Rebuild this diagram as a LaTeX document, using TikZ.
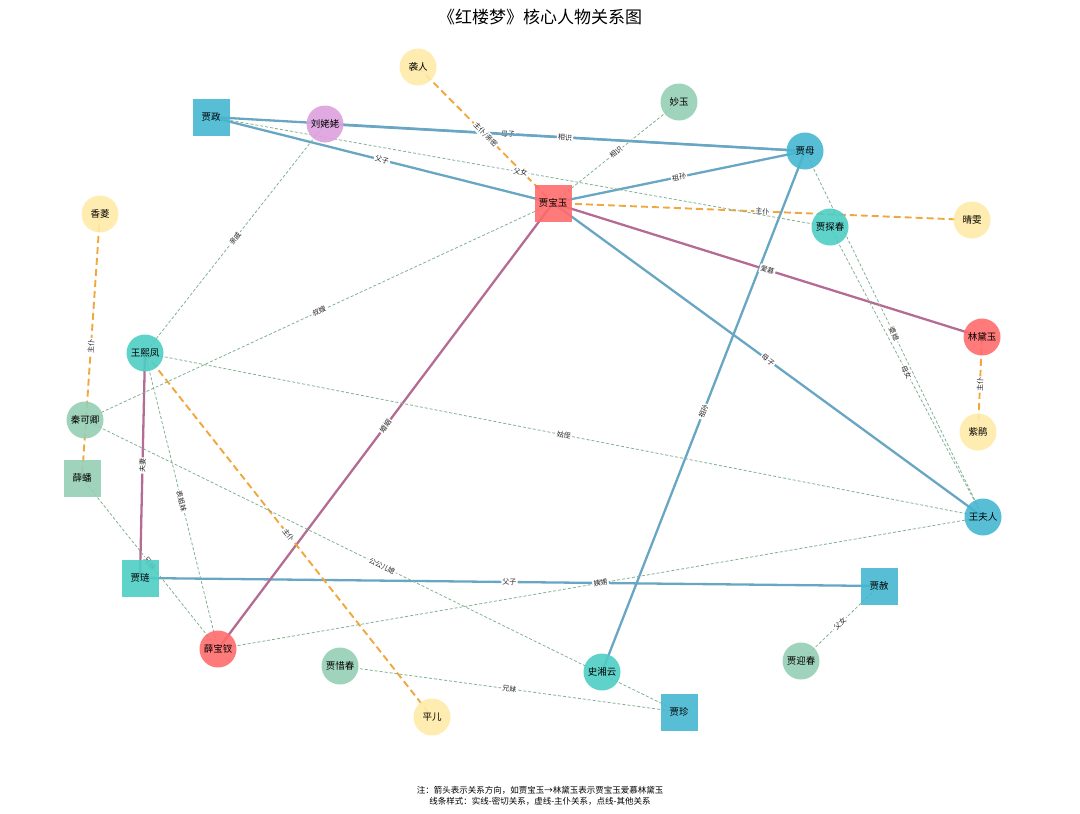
\documentclass[tikz,border=0pt]{standalone}
\usepackage{fontspec}
\setmainfont{Noto Sans CJK SC}
\usepackage{xcolor}

\definecolor{nred}{HTML}{FF6B6B}
\definecolor{nblue}{HTML}{45B7D1}
\definecolor{nteal}{HTML}{4ECDC4}
\definecolor{ngreen}{HTML}{96CEB4}
\definecolor{nyellow}{HTML}{FFEAA7}
\definecolor{npurple}{HTML}{DDA0DD}
\definecolor{ekin}{RGB}{104,166,196}
\definecolor{elove}{RGB}{181,108,148}
\definecolor{eserve}{RGB}{240,168,62}
\definecolor{eother}{RGB}{128,178,146}

\pgfdeclarelayer{bg}
\pgfsetlayers{bg,main}

\tikzset{
  person/.style={inner sep=0pt, minimum size=37pt, fill opacity=0.9, text opacity=1,
    font=\fontsize{9.5}{9.5}\selectfont},
  male/.style={person, rectangle},
  female/.style={person, circle},
  kin/.style={draw=ekin, line width=2.3pt},
  love/.style={draw=elove, line width=2.3pt},
  serve/.style={draw=eserve, line width=1.9pt, dash pattern=on 7pt off 4pt},
  other/.style={draw=eother, line width=0.8pt, dash pattern=on 3pt off 2pt},
  lab/.style={fill=white, inner sep=1.2pt, sloped, text=black!85,
    font=\fontsize{7}{7}\selectfont}
}

\begin{document}
\begin{tikzpicture}[x=1pt,y=-1pt]
\useasboundingbox (0,0) rectangle (1080,814);

% people
\node[female,fill=nyellow] (xiren) at (418,67) {袭人};
\node[female,fill=ngreen] (miaoyu) at (679,102) {妙玉};
\node[male,fill=nblue] (zheng) at (211,117) {贾政};
\node[female,fill=npurple] (liu) at (325,124) {刘姥姥};
\node[female,fill=nblue] (jiamu) at (805,151) {贾母};
\node[male,fill=nred] (baoyu) at (553,203) {贾宝玉};
\node[female,fill=nyellow] (xiangling) at (100,214) {香菱};
\node[female,fill=nteal] (tanchun) at (830,227) {贾探春};
\node[female,fill=nyellow] (qingwen) at (972,220) {晴雯};
\node[female,fill=nred] (daiyu) at (982,337) {林黛玉};
\node[female,fill=nteal] (xifeng) at (145,353) {王熙凤};
\node[female,fill=ngreen] (keqing) at (85,420) {秦可卿};
\node[female,fill=nyellow] (zijuan) at (978,432) {紫鹃};
\node[male,fill=ngreen] (xuepan) at (82,478) {薛蟠};
\node[female,fill=nblue] (furen) at (983,517) {王夫人};
\node[male,fill=nteal] (lian) at (140,578) {贾琏};
\node[male,fill=nblue] (she) at (879,586) {贾赦};
\node[female,fill=nred] (baochai) at (218,649) {薛宝钗};
\node[female,fill=ngreen] (xichun) at (340,666) {贾惜春};
\node[female,fill=nteal] (xiangyun) at (602,672) {史湘云};
\node[female,fill=ngreen] (yingchun) at (801,661) {贾迎春};
\node[female,fill=nyellow] (pinger) at (432,717) {平儿};
\node[male,fill=nblue] (zhen) at (679,712) {贾珍};

\begin{pgfonlayer}{bg}
% close ties
\draw[kin] (zheng.center) edge node[lab] {母子} (jiamu.center);
\draw[kin] (liu.center) edge node[lab] {相识} (jiamu.center);
\draw[kin] (zheng.center) edge node[lab] {父子} (baoyu.center);
\draw[kin] (baoyu.center) edge node[lab] {祖孙} (jiamu.center);
\draw[kin] (baoyu.center) edge node[lab] {母子} (furen.center);
\draw[kin] (jiamu.center) edge node[lab] {祖孙} (xiangyun.center);
\draw[kin] (lian.center) edge node[lab] {父子} (she.center);
\draw[love] (baoyu.center) edge node[lab] {爱慕} (daiyu.center);
\draw[love] (baoyu.center) edge node[lab] {婚姻} (baochai.center);
\draw[love] (xifeng.center) edge node[lab] {夫妻} (lian.center);
% servants
\draw[serve] (xiren.center) edge node[lab] {主仆/亲密} (baoyu.center);
\draw[serve] (baoyu.center) edge node[lab] {主仆} (qingwen.center);
\draw[serve] (daiyu.center) edge node[lab] {主仆} (zijuan.center);
\draw[serve] (xiangling.center) edge node[lab] {主仆} (xuepan.center);
\draw[serve] (xifeng.center) edge node[lab] {主仆} (pinger.center);
% others
\draw[other] (zheng.center) edge node[lab] {父女} (tanchun.center);
\draw[other] (liu.center) edge node[lab] {亲戚} (xifeng.center);
\draw[other] (miaoyu.center) edge node[lab] {相识} (baoyu.center);
\draw[other] (baoyu.center) edge node[lab] {叔嫂} (keqing.center);
\draw[other] (jiamu.center) edge node[lab] {婆媳} (furen.center);
\draw[other] (tanchun.center) edge node[lab] {母女} (furen.center);
\draw[other] (xifeng.center) edge node[lab] {表姐妹} (baochai.center);
\draw[other] (xifeng.center) edge node[lab] {姑侄} (furen.center);
\draw[other] (keqing.center) edge node[lab] {公公儿媳} (zhen.center);
\draw[other] (baochai.center) edge node[lab] {姨甥} (furen.center);
\draw[other] (xuepan.center) edge node[lab] {兄妹} (baochai.center);
\draw[other] (xichun.center) edge node[lab] {兄妹} (zhen.center);
\draw[other] (she.center) edge node[lab] {父女} (yingchun.center);
\end{pgfonlayer}

% title and notes
\node[font=\fontsize{17}{17}\selectfont] (title) at (540,17) {《红楼梦》核心人物关系图};
\node[font=\fontsize{8.5}{10.5}\selectfont, align=center] (note) at (540,796)
  {注：箭头表示关系方向，如贾宝玉→林黛玉表示贾宝玉爱慕林黛玉\\线条样式：实线-密切关系，虚线-主仆关系，点线-其他关系};
\end{tikzpicture}
\end{document}
